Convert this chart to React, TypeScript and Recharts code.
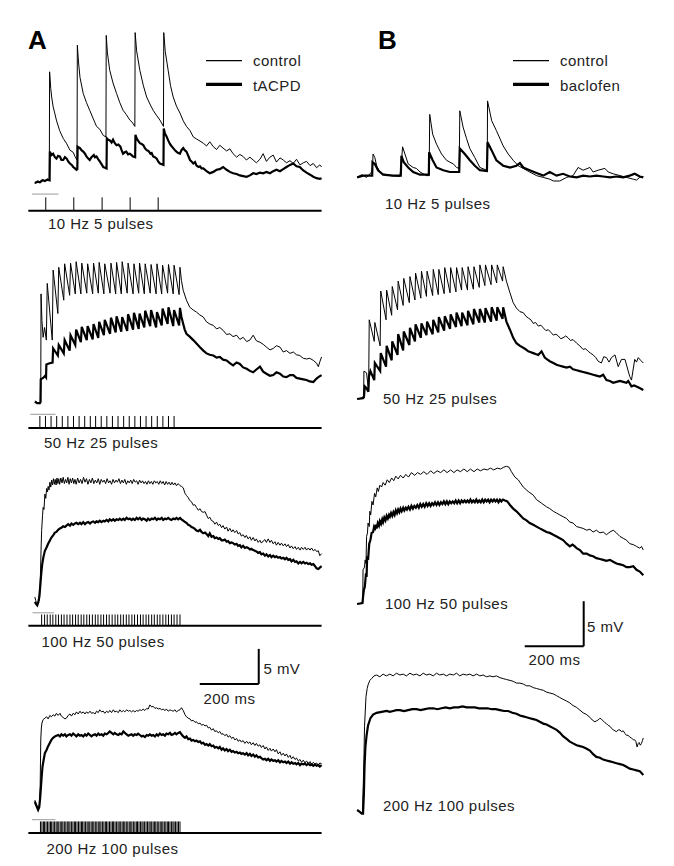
import { Line, LineChart, ReferenceLine, XAxis, YAxis } from "recharts";

type Pt = [number, number];

// [time in ms from trace start, mV above resting baseline]

// A, 10 Hz 5 pulses
const a10Control: Pt[] = [
  [0, -0.2], [9, 0.2], [17, 0.1], [26, 0.4], [34, 0.2], [42, 0.5], [49, 0.3], [50, 15.8], [54, 13.4], [57, 12.2],
  [62, 10.8], [68, 9.8], [73, 8.9], [84, 7.4], [96, 6.3], [107, 5.6], [119, 4.6], [130, 4.3], [136, 3.7], [143, 3.2],
  [144, 19.6], [148, 17.2], [153, 15], [164, 12.7], [175, 11.4], [186, 10.3], [198, 9.1], [209, 8], [220, 7.6], [232, 6.7],
  [241, 6.5], [242, 21], [246, 18.5], [254, 16], [265, 14.2], [277, 12.7], [288, 11.4], [299, 10.3], [310, 9.7], [322, 8.9],
  [330, 8.6], [339, 8], [340, 21.4], [345, 18.8], [356, 16], [368, 13.8], [379, 12.2], [390, 11.2], [401, 10.3], [412, 9.6],
  [424, 8.9], [436, 8], [437, 21.4], [442, 18.7], [452, 16], [460, 13.8], [469, 12.2], [480, 10.9], [492, 9.9], [503, 8.8],
  [514, 8], [526, 7.4], [537, 6.5], [548, 6.2], [560, 5.9], [571, 5.6], [582, 5.2], [593, 5.8], [605, 5.1], [616, 4.7],
  [627, 5.3], [638, 4.9], [650, 4.5], [661, 4.8], [672, 4.1], [684, 3.6], [695, 4], [706, 3.7], [717, 3.2], [729, 3.6],
  [740, 3.2], [751, 2.8], [763, 3.3], [774, 4.1], [785, 3], [797, 3.6], [808, 3.9], [819, 2.9], [831, 3.5], [842, 3.2],
  [853, 2.8], [865, 3.1], [876, 2.7], [887, 3.3], [899, 2.5], [910, 2.8], [921, 3], [933, 2.4], [944, 2.7], [955, 2.1],
  [966, 2.5], [972, 2.2],
];
const a10Drug: Pt[] = [
  [0, -0.1], [9, 0.1], [17, 0], [26, 0.3], [34, 0.2], [42, 0.4], [50, 0.3], [51, 4.4], [54, 4.1], [57, 3.9],
  [62, 4.1], [68, 3.6], [73, 3.4], [79, 3.8], [85, 3.7], [90, 3.2], [96, 3.2], [102, 3.6], [108, 3.4], [113, 3],
  [119, 2.7], [125, 2.5], [130, 2.2], [136, 2], [141, 1.8], [144, 1.9], [145, 5.1], [149, 5], [153, 4.9], [158, 4.6],
  [164, 4.4], [170, 4.1], [175, 3.7], [181, 3.4], [186, 3.2], [192, 3.6], [200, 3.9], [204, 3.6], [209, 3.7], [215, 3.3],
  [220, 3], [226, 2.6], [232, 2.2], [238, 2.1], [243, 2], [244, 6.3], [249, 6.1], [254, 6], [260, 5.7], [265, 6.1],
  [271, 5.6], [277, 5.3], [283, 5.4], [290, 5.1], [294, 4.6], [299, 4.1], [305, 4.3], [310, 4.4], [316, 4], [322, 4.1],
  [328, 3.9], [333, 3.7], [340, 3.6], [341, 6.8], [346, 6.2], [351, 5.9], [356, 5.6], [362, 5.5], [368, 5.3], [373, 4.9],
  [379, 4.6], [385, 4.5], [392, 4.1], [396, 4.2], [401, 3.7], [407, 3.6], [413, 3.4], [418, 3], [424, 2.7], [430, 2.6],
  [436, 2.5], [437, 7.7], [441, 7], [446, 6.6], [452, 6], [458, 5.5], [463, 5.2], [469, 4.9], [475, 4.6], [480, 4.4],
  [486, 4.2], [492, 4.1], [497, 4.6], [503, 4.9], [508, 4.6], [514, 4.4], [520, 3.8], [526, 3.2], [531, 3], [537, 2.7],
  [543, 2.9], [548, 2.4], [555, 2.2], [560, 2.3], [565, 2], [571, 2], [577, 1.8], [582, 1.6], [593, 1.3], [605, 1.5],
  [616, 1.8], [627, 1.9], [638, 2.2], [650, 1.8], [661, 1.5], [672, 1.3], [684, 1.2], [695, 1], [706, 0.9], [718, 0.8],
  [729, 1], [740, 1.3], [751, 1.2], [763, 1.4], [774, 1.3], [785, 1.5], [797, 1.3], [808, 1.6], [819, 1.8], [831, 1.6],
  [842, 1.9], [853, 2.2], [865, 2.5], [876, 2.7], [887, 2.3], [898, 2.2], [910, 1.7], [921, 1.4], [933, 1.1], [944, 0.8],
  [955, 0.6], [966, 0.5], [972, 0.6],
];
const stimA10 = [37, 132, 228, 323, 418];

// A, 50 Hz 25 pulses
const a50Control: Pt[] = [
  [0, 0], [8, -0.2], [17, -0.4], [20, -0.1], [21, 15.3], [24, 11.5], [28, 9.1], [33, 10.5], [39, 8.7], [42, 16.8],
  [59, 8.7], [62, 18.7], [78, 12.5], [81, 19.1], [98, 14.4], [101, 19.6], [118, 15.1], [121, 19.7], [137, 15.3], [140, 19.9],
  [156, 15.3], [159, 19.7], [176, 15.4], [179, 19.6], [196, 15.3], [199, 19.7], [215, 15.4], [218, 19.8], [234, 15.3], [237, 19.6],
  [255, 15.4], [258, 19.7], [274, 15.3], [277, 19.8], [293, 15.3], [296, 19.9], [313, 15.4], [316, 19.7], [333, 15.3], [336, 19.6],
  [352, 15.4], [355, 19.7], [371, 15.3], [374, 19.6], [391, 15.4], [394, 19.5], [411, 15.3], [414, 19.6], [430, 15.3], [433, 19.4],
  [450, 15.4], [453, 19.5], [469, 15.3], [472, 19.4], [489, 15.2], [492, 19.1], [497, 17.2], [503, 15.8], [514, 14.4], [525, 13.4],
  [537, 13], [548, 12.7], [559, 12.3], [571, 12], [582, 11.3], [593, 11], [605, 10.8], [616, 10.3], [627, 10.5], [638, 10.1],
  [650, 9.5], [661, 9.6], [672, 9.2], [684, 9.4], [695, 8.8], [706, 9.1], [718, 8.5], [729, 8.7], [740, 9.4], [751, 8.6],
  [763, 8.4], [774, 8.1], [785, 7.7], [797, 7.3], [808, 7.5], [819, 7.9], [831, 7.7], [842, 7], [853, 7.2], [865, 6.8],
  [876, 7], [887, 6.6], [898, 6.5], [910, 6.1], [921, 6], [932, 6.1], [944, 5.8], [955, 5.4], [961, 4.9], [966, 5.6],
  [972, 6.3],
];
const a50Drug: Pt[] = [
  [0, -0.1], [8, -0.3], [17, -0.3], [19, -0.2], [20, 3.1], [28, 3.3], [35, 3.6], [38, 3.4], [39, 5.2], [50, 5.4],
  [60, 5.5], [62, 7.5], [78, 6.5], [81, 8], [98, 6.8], [101, 8.7], [118, 7.2], [121, 9.4], [137, 8], [140, 10.2],
  [156, 8.4], [159, 10.6], [176, 8.7], [179, 10.7], [196, 8.8], [199, 11], [215, 9], [218, 11.3], [234, 9.4], [237, 11.6],
  [255, 9.6], [258, 11.9], [274, 9.8], [277, 12.1], [293, 9.9], [296, 12], [313, 10], [316, 12.4], [333, 10.2], [336, 12.6],
  [352, 10.3], [355, 12.5], [371, 10.5], [374, 12.9], [391, 10.7], [394, 13], [411, 10.5], [414, 12.7], [430, 10.8], [433, 13.2],
  [450, 11], [453, 13.4], [469, 10.7], [472, 13], [489, 10.8], [492, 13.3], [497, 12], [503, 11], [508, 10.2], [514, 9.6],
  [525, 9.2], [537, 8.7], [548, 8.2], [559, 7.7], [571, 7.2], [582, 6.8], [593, 6.6], [605, 6.5], [616, 6.2], [627, 6.3],
  [638, 5.9], [650, 5.8], [661, 5.4], [672, 5.1], [684, 5.5], [695, 5.3], [706, 4.8], [718, 4.6], [729, 4.3], [740, 4.1],
  [751, 4.5], [763, 4.9], [774, 4.2], [785, 3.9], [797, 3.6], [808, 3.7], [819, 4.1], [831, 3.9], [842, 3.5], [853, 3.4],
  [865, 3.7], [876, 3.7], [887, 3.3], [898, 3.2], [910, 3.1], [921, 3], [932, 2.8], [944, 2.7], [955, 3.2], [961, 3.4],
  [972, 3.7],
];
const stimA50 = [17, 36, 55, 74, 93, 112, 131, 150, 169, 188, 206, 225, 244, 263, 282, 301, 320, 339, 358, 377, 396, 415, 434, 453, 472];

// A, 100 Hz 50 pulses
const a100Control: Pt[] = [
  [0, 0.5], [3, 0], [6, -0.5], [10, -0.2], [15, 0], [17, 1.2], [19, 3.8], [21, 7.2], [23, 10], [26, 12.1],
  [28, 13.3], [31, 13], [34, 15.2], [37, 14.6], [40, 16], [43, 15.5], [45, 16.3], [48, 15.8], [51, 16.9], [54, 16.2],
  [57, 17.2], [60, 16.5], [63, 17.4], [66, 16.6], [69, 17.3], [72, 16.5], [75, 17.5], [78, 16.7], [81, 17.4], [84, 16.6],
  [88, 17.5], [92, 16.8], [96, 17.6], [100, 16.7], [104, 17.3], [108, 16.8], [112, 17.6], [116, 16.6], [120, 17.4], [124, 16.8],
  [128, 17.5], [132, 16.7], [136, 17.3], [140, 16.6], [145, 17.5], [150, 16.8], [155, 17.3], [160, 16.7], [165, 17.6], [170, 16.9],
  [175, 17.4], [180, 16.6], [185, 17.3], [190, 16.8], [195, 17.5], [200, 16.7], [205, 17.2], [210, 16.8], [215, 17.4], [220, 16.6],
  [225, 17.3], [230, 16.9], [235, 17.2], [240, 16.7], [245, 17.4], [250, 16.8], [255, 17.1], [260, 16.6], [265, 17.3], [270, 16.8],
  [275, 17.2], [280, 16.9], [285, 17.4], [290, 16.7], [295, 17.2], [300, 16.8], [305, 17.3], [310, 16.6], [315, 17.1], [320, 16.8],
  [325, 17.2], [330, 16.7], [335, 17.3], [340, 16.9], [345, 17.1], [350, 16.6], [355, 17.2], [360, 16.8], [365, 17.1], [370, 16.7],
  [375, 17], [380, 16.6], [385, 17.1], [390, 16.7], [395, 17], [400, 16.6], [405, 17.1], [410, 16.8], [415, 17], [420, 16.6],
  [425, 17.1], [430, 16.7], [435, 17], [440, 16.5], [445, 17], [450, 16.6], [455, 16.9], [460, 16.5], [465, 16.9], [470, 16.5],
  [475, 16.8], [480, 16.4], [486, 16.7], [492, 16.4], [497, 16.3], [503, 16.1], [509, 15.3], [514, 15], [520, 14.7], [525, 14.3],
  [531, 14.1], [537, 13.6], [542, 13.7], [548, 13.3], [554, 12.9], [560, 13.1], [565, 12.7], [571, 12.6], [577, 12.7], [582, 12.2],
  [588, 11.7], [593, 11.9], [599, 11.4], [605, 11.3], [610, 10.9], [616, 11.2], [622, 10.7], [627, 10.9], [633, 10.4], [638, 10.7],
  [644, 10.2], [650, 10.5], [655, 9.9], [661, 10.3], [667, 9.8], [672, 10.1], [678, 9.7], [684, 10], [689, 9.5], [695, 9.7],
  [700, 9.2], [706, 9.4], [712, 9], [717, 9.3], [723, 8.8], [729, 9.1], [734, 8.6], [740, 9], [746, 8.5], [751, 8.8],
  [757, 8.3], [763, 8.6], [768, 8.2], [774, 8.5], [780, 8.7], [785, 8.3], [791, 8.8], [797, 8.3], [802, 8.6], [808, 8.1],
  [814, 8.4], [819, 7.9], [825, 8.3], [831, 7.9], [836, 8.2], [842, 7.8], [848, 8.1], [853, 7.7], [859, 8], [865, 7.5],
  [870, 7.8], [876, 7.4], [882, 7.7], [887, 7.3], [893, 7.6], [899, 7.2], [904, 7.6], [910, 7.3], [916, 7.6], [921, 7.2],
  [927, 7.5], [933, 7.2], [938, 7.5], [944, 7.1], [950, 7.3], [955, 7], [961, 7.1], [966, 6.4], [972, 6.7],
];
const a100Drug: Pt[] = [
  [0, -0.2], [4, -0.5], [8, -0.7], [12, -0.2], [15, 0.5], [19, 2.4], [22, 4], [25, 5.2], [29, 6.2], [34, 7.1],
  [40, 7.6], [45, 8.1], [50, 8.5], [56, 9], [62, 9.3], [68, 9.7], [73, 9.8], [79, 10.1], [85, 10.3], [90, 10.4],
  [96, 10.6], [102, 10.5], [107, 10.7], [113, 10.9], [119, 10.7], [124, 11], [130, 10.8], [136, 11], [141, 11.1], [147, 10.9],
  [153, 11.1], [158, 10.9], [164, 11.2], [170, 10.9], [175, 11.1], [181, 11.2], [187, 11], [192, 11.2], [198, 11.3], [204, 11.1],
  [209, 11.3], [215, 11.2], [220, 11.4], [226, 11.2], [232, 11.4], [237, 11.3], [243, 11.5], [249, 11.3], [254, 11.6], [260, 11.4],
  [266, 11.6], [271, 11.4], [277, 11.6], [283, 11.5], [288, 11.7], [294, 11.5], [300, 11.7], [305, 11.5], [311, 11.8], [317, 11.6],
  [322, 11.7], [328, 11.5], [333, 11.7], [339, 11.5], [345, 11.8], [350, 11.6], [356, 11.8], [362, 11.5], [367, 11.7], [373, 11.6],
  [379, 11.4], [384, 11.7], [390, 11.5], [396, 11.7], [401, 11.6], [407, 11.8], [413, 11.5], [418, 11.7], [424, 11.6], [430, 11.8],
  [435, 11.5], [441, 11.7], [446, 11.6], [452, 11.8], [458, 11.6], [463, 11.5], [469, 11.7], [475, 11.6], [480, 11.8], [486, 11.6],
  [492, 11.8], [497, 11.6], [503, 11.4], [509, 11.2], [514, 11.1], [520, 10.8], [526, 10.7], [531, 10.5], [537, 10.4], [543, 10.2],
  [548, 10], [554, 9.9], [560, 10.1], [565, 9.8], [571, 9.6], [577, 9.7], [582, 9.5], [588, 9.2], [593, 9.6], [599, 9.1],
  [605, 9.2], [610, 8.9], [616, 9], [622, 8.8], [627, 8.9], [633, 8.6], [638, 8.6], [644, 8.7], [650, 8.4], [655, 8.5],
  [661, 8.2], [667, 8.3], [672, 8.2], [678, 8], [684, 8.1], [689, 7.8], [695, 7.9], [700, 7.6], [706, 7.8], [712, 7.5],
  [718, 7.6], [723, 7.5], [729, 7.3], [734, 7.4], [740, 7.2], [746, 7.1], [751, 7], [757, 6.8], [763, 6.9], [768, 6.6],
  [774, 6.7], [780, 6.4], [785, 6.6], [791, 6.3], [797, 6.5], [802, 6.2], [808, 6.4], [814, 6.2], [819, 6.3], [825, 6.1],
  [831, 6.2], [836, 6], [842, 6.1], [848, 5.9], [853, 6.1], [859, 5.8], [865, 5.9], [870, 5.6], [876, 5.8], [882, 5.5],
  [887, 5.6], [893, 5.3], [899, 5.5], [904, 5.3], [910, 5.5], [916, 5.3], [921, 5.4], [927, 5.2], [933, 5.3], [938, 5.1],
  [944, 5.2], [950, 4.9], [955, 4.6], [961, 4.5], [966, 4.7], [972, 4.9],
];
const stimA100 = [
  23, 33, 42, 52, 61, 71, 80, 90, 99, 109, 119, 128, 138, 147, 157, 166, 176, 185, 195, 205,
  214, 224, 233, 243, 252, 262, 272, 281, 291, 300, 310, 319, 329, 338, 348, 358, 367, 377, 386, 396,
  405, 415, 424, 434, 444, 453, 463, 472, 482, 492,
];

// A, 200 Hz 100 pulses
const a200Control: Pt[] = [
  [0, 0.2], [3, -0.2], [6, -0.5], [11, -1], [15, -0.5], [18, 2], [20, 8.8], [22, 10.5], [24, 11.2], [28, 11.7],
  [34, 11.9], [40, 12.1], [45, 11.8], [51, 12.3], [56, 12.1], [62, 12.4], [68, 12.2], [73, 12.6], [79, 12.3], [85, 12.6],
  [90, 12.2], [96, 12], [102, 11.8], [107, 11.9], [113, 12.3], [119, 12.5], [124, 12.2], [130, 12.6], [136, 12.4], [141, 12.8],
  [147, 12.5], [153, 12.9], [158, 12.6], [164, 12.8], [170, 12.5], [175, 12.8], [181, 12.6], [187, 12.9], [192, 12.6], [198, 12.7],
  [204, 12.5], [209, 12.9], [215, 12.7], [220, 13.1], [226, 12.8], [232, 12.9], [237, 12.6], [243, 12.9], [249, 12.7], [254, 13],
  [260, 12.7], [266, 13.1], [271, 12.8], [277, 12.9], [283, 12.7], [288, 13.1], [294, 12.8], [300, 13], [305, 12.8], [311, 13.1],
  [317, 12.9], [322, 13], [328, 12.8], [333, 13], [339, 12.8], [345, 13], [350, 12.9], [356, 13.1], [362, 13], [367, 13.2],
  [373, 13], [379, 13.3], [384, 13.2], [390, 13.8], [396, 13.5], [401, 13.6], [407, 13.3], [413, 13.4], [418, 13.2], [424, 13.3],
  [430, 13.1], [435, 13.2], [441, 13], [446, 13.2], [452, 12.9], [458, 13.1], [463, 13], [469, 12.9], [475, 13.1], [480, 12.8],
  [486, 13], [492, 13.1], [497, 13.4], [503, 13], [509, 12.4], [514, 12.1], [520, 11.9], [526, 11.8], [531, 11.5], [537, 11.6],
  [543, 11.3], [548, 11.4], [554, 11.1], [560, 11.2], [565, 10.9], [571, 11], [577, 10.8], [582, 10.9], [588, 10.5], [593, 10.6],
  [599, 10.2], [605, 10.4], [610, 10], [616, 10.1], [622, 9.8], [627, 10], [633, 9.6], [638, 9.7], [644, 9.4], [650, 9.6],
  [655, 9.2], [661, 9.4], [667, 9], [672, 9.2], [678, 8.8], [684, 9], [689, 8.6], [695, 8.8], [700, 8.5], [706, 8.7],
  [712, 8.3], [718, 8.6], [723, 8.3], [729, 8.5], [734, 8.1], [740, 8.4], [746, 8], [751, 8.3], [757, 7.9], [763, 8.1],
  [768, 7.7], [774, 8], [780, 7.5], [785, 7.8], [791, 7.3], [797, 7.6], [802, 7.2], [808, 7.5], [814, 7.1], [819, 7.4],
  [825, 6.8], [831, 7.1], [836, 6.6], [842, 6.9], [848, 6.5], [853, 6.8], [859, 6.3], [865, 6.6], [870, 6.1], [876, 6.4],
  [882, 6], [887, 6.2], [893, 5.8], [899, 6], [904, 5.6], [910, 5.9], [916, 5.5], [921, 5.8], [927, 5.4], [933, 5.7],
  [938, 5.3], [944, 5.6], [950, 5.3], [955, 5.5], [961, 5.2], [966, 5.5], [972, 5.4],
];
const a200Drug: Pt[] = [
  [0, 0], [3, -0.4], [6, -0.7], [11, -1.2], [15, -0.8], [18, 0.5], [20, 1.7], [23, 3.5], [26, 5], [30, 6],
  [34, 6.9], [40, 7.4], [45, 7.9], [51, 8.4], [56, 8.8], [62, 9.1], [68, 9.3], [73, 9.4], [79, 9.5], [85, 9.3],
  [90, 9.6], [96, 9.4], [102, 9.6], [107, 9.3], [113, 9.5], [119, 9.6], [124, 9.4], [130, 9.7], [136, 9.5], [141, 9.3],
  [147, 9.6], [153, 9.4], [158, 9.5], [164, 9.3], [170, 9.6], [175, 9.4], [181, 9.7], [187, 9.5], [192, 9.3], [198, 9.5],
  [204, 9.6], [209, 9.4], [215, 9.7], [220, 9.5], [226, 9.6], [232, 9.4], [237, 9.7], [243, 9.6], [249, 9.8], [254, 10],
  [260, 9.8], [266, 9.6], [271, 9.8], [277, 9.6], [283, 9.5], [288, 9.7], [294, 9.6], [300, 10], [305, 9.8], [311, 9.6],
  [317, 9.4], [322, 9.5], [328, 9.6], [333, 9.4], [339, 9.6], [345, 9.5], [350, 9.7], [356, 9.5], [362, 9.3], [367, 9.4],
  [373, 9.2], [379, 9.5], [384, 9.4], [390, 9.6], [396, 9.4], [401, 9.5], [407, 9.3], [413, 9.6], [418, 9.4], [424, 9.7],
  [430, 9.5], [435, 9.6], [441, 9.4], [446, 9.7], [452, 9.6], [458, 9.8], [463, 9.5], [469, 9.6], [475, 9.8], [480, 9.6],
  [486, 9.8], [492, 9.9], [497, 9.6], [503, 9.3], [509, 9.1], [514, 9.3], [520, 8.9], [526, 9], [531, 8.7], [537, 8.8],
  [543, 8.6], [548, 8.7], [554, 8.5], [560, 8.6], [565, 8.3], [571, 8.4], [577, 8.1], [582, 8.2], [588, 8], [593, 8.2],
  [599, 7.9], [605, 8], [610, 7.7], [616, 7.8], [622, 7.6], [627, 7.8], [633, 7.4], [638, 7.6], [644, 7.3], [650, 7.5],
  [655, 7.2], [661, 7.4], [667, 7.1], [672, 7.2], [678, 7], [684, 7.1], [689, 6.9], [695, 7], [700, 6.8], [706, 6.9],
  [712, 6.7], [718, 6.9], [723, 6.6], [729, 6.8], [734, 6.5], [740, 6.7], [746, 6.4], [751, 6.6], [757, 6.3], [763, 6.4],
  [768, 6.2], [774, 6], [780, 6.1], [785, 5.9], [791, 6.1], [797, 5.8], [802, 6], [808, 5.8], [814, 5.9], [819, 5.7],
  [825, 5.9], [831, 5.6], [836, 5.8], [842, 5.6], [848, 5.7], [853, 5.5], [859, 5.7], [865, 5.4], [870, 5.6], [876, 5.4],
  [882, 5.5], [887, 5.3], [893, 5.5], [899, 5.2], [904, 5.4], [910, 5.3], [916, 5.4], [921, 5.2], [927, 5.4], [933, 5.2],
  [938, 5.3], [944, 5.1], [950, 5.3], [955, 5.1], [961, 5.2], [966, 5], [972, 5.2],
];
const stimA200 = [
  19, 24, 29, 33, 38, 43, 48, 53, 57, 62, 67, 72, 76, 81, 86, 91, 95, 100, 105, 110,
  115, 119, 124, 129, 134, 138, 143, 148, 153, 158, 162, 167, 172, 177, 181, 186, 191, 196, 200, 205,
  210, 215, 220, 224, 229, 234, 239, 243, 248, 253, 258, 263, 267, 272, 277, 282, 286, 291, 296, 301,
  305, 310, 315, 320, 325, 329, 334, 339, 344, 348, 353, 358, 363, 367, 372, 377, 382, 387, 391, 396,
  401, 406, 410, 415, 420, 425, 430, 434, 439, 444, 449, 453, 458, 463, 468, 472, 477, 482, 487, 492,
];

// B, 10 Hz 5 pulses
const b10Control: Pt[] = [
  [1, -0.1], [16, 0.2], [33, -0.1], [50, 0.5], [53, 1], [55, 2.5], [61, 2.1], [67, 1.2], [78, 0.5], [89, 0.3],
  [112, 0.1], [146, 0], [151, 1.4], [155, 3.3], [163, 2.5], [174, 1.4], [191, 1], [202, 0.9], [214, 0.5], [236, 0.1],
  [245, 0.1], [247, 6.9], [257, 4.7], [270, 3.6], [287, 2.5], [304, 1.8], [315, 1.6], [327, 1.4], [338, 1], [347, 0.9],
  [349, 7.3], [360, 5.5], [372, 4.2], [383, 3.1], [400, 2.1], [417, 1], [440, 0.7], [442, 0.7], [443, 8.4], [457, 6.2],
  [473, 5.1], [496, 3.4], [513, 2.5], [530, 1.8], [547, 1.2], [564, 0.9], [586, 0.5], [609, 0.1], [632, -0.1], [654, -0.3],
  [666, -0.5], [688, -0.5], [711, -0.1], [733, 0.1], [750, 1], [767, 0.7], [790, 1], [801, 0.5], [818, 0.7], [841, 0.9],
  [852, 0.5], [869, 0.3], [892, 0.1], [914, -0.1], [937, -0.3], [948, -0.4], [959, -0.1], [971, 0],
];
const b10Drug: Pt[] = [
  [1, -0.1], [21, 0.1], [44, 0.1], [52, 0.1], [53, 1.6], [61, 1.4], [72, 0.7], [89, 0.2], [123, 0.1], [149, 0.1],
  [151, 2.3], [159, 1.6], [174, 1], [191, 0.5], [214, 0.2], [244, 0.2], [245, 2.7], [257, 1.8], [270, 1], [293, 0.7],
  [315, 0.5], [347, 0.5], [349, 3.1], [366, 2.5], [383, 1.8], [400, 1.2], [417, 0.7], [441, 0.6], [443, 3.8], [457, 2.9],
  [473, 1.8], [496, 1.2], [519, 1], [541, 1.2], [553, 1.5], [564, 1], [586, 0.7], [609, 0.4], [632, 0.1], [654, 0.5],
  [677, 0.1], [699, 0.3], [722, 0], [745, -0.1], [767, 0.1], [790, 0], [812, 0.1], [835, 0], [858, -0.1], [880, 0],
  [903, -0.1], [925, 0.1], [942, 0.3], [959, 0], [971, -0.1],
];

// B, 50 Hz 25 pulses
const b50Control: Pt[] = [
  [1, 0], [16, 0.1], [21, 0.3], [23, 0.3], [24, 3.1], [33, 2.9], [38, 1.4], [40, 1.4], [42, 8.8], [59, 6.4],
  [61, 8.5], [79, 5.9], [81, 12], [99, 8.8], [101, 12.1], [118, 9.3], [120, 12.5], [138, 9.9], [140, 13.1], [157, 10.4],
  [159, 13.4], [178, 10.7], [180, 13.6], [197, 11], [199, 14], [217, 11.2], [219, 14.2], [236, 11.4], [238, 14.2], [257, 11.5],
  [259, 14.4], [276, 11.6], [278, 14.4], [296, 11.7], [298, 14.6], [316, 11.8], [318, 14.6], [336, 11.9], [338, 14.6], [355, 12.1],
  [357, 14.6], [375, 12.1], [377, 14.7], [395, 12.2], [397, 14.7], [415, 12.4], [417, 14.9], [434, 12.6], [436, 14.9], [455, 12.7],
  [457, 14.9], [474, 12.9], [476, 14.9], [494, 13.1], [496, 14.7], [507, 13.1], [519, 11.8], [530, 10.7], [541, 10.1], [553, 9.7],
  [564, 9.6], [573, 9.2], [581, 9], [590, 8.8], [598, 8.4], [606, 8.5], [615, 8.1], [624, 8.2], [632, 7.9], [641, 7.6],
  [649, 7.7], [658, 7.4], [666, 7.1], [675, 7.2], [683, 7], [691, 6.7], [699, 6.8], [708, 7], [716, 6.8], [724, 6.5],
  [733, 6.6], [745, 6.2], [756, 5.9], [767, 5.5], [775, 5.6], [784, 5.3], [792, 5.1], [801, 4.9], [810, 4.6], [818, 4.2],
  [829, 4], [837, 4.7], [846, 4.6], [855, 4.1], [863, 4.6], [875, 4.9], [886, 3.6], [897, 4.4], [909, 4.4], [925, 2.5],
  [931, 2.1], [942, 4.4], [948, 4.1], [954, 4.6], [962, 4.3], [971, 4],
];
const b50Drug: Pt[] = [
  [1, 0], [21, 0.1], [24, 0.2], [27, 1.4], [33, 1.2], [39, 0.8], [41, 2.5], [46, 3.1], [59, 2.1], [61, 4],
  [79, 3.1], [81, 5.1], [99, 3.6], [101, 5.9], [118, 4.3], [120, 6.4], [138, 4.9], [140, 7.2], [157, 5.4], [159, 7.5],
  [178, 6], [180, 7.9], [197, 6.4], [199, 8.3], [217, 6.8], [219, 8.4], [236, 7.1], [238, 8.6], [257, 7.2], [259, 8.8],
  [276, 7.4], [278, 9.1], [296, 7.6], [298, 9.2], [316, 7.8], [318, 9.4], [336, 8], [338, 9.6], [355, 8.1], [357, 9.6],
  [375, 8.2], [377, 9.8], [395, 8.3], [397, 10], [415, 8.5], [417, 10], [434, 8.5], [436, 10.1], [455, 8.6], [457, 10.2],
  [474, 8.7], [476, 10.2], [494, 8.9], [496, 10.2], [507, 8.6], [519, 7.7], [530, 6.8], [541, 6.2], [553, 5.9], [564, 5.7],
  [573, 5.5], [581, 5.3], [590, 5.2], [598, 5.1], [606, 5], [615, 4.9], [626, 5.3], [637, 4.6], [645, 4.4], [654, 4.2],
  [666, 4], [677, 3.8], [688, 3.7], [699, 3.6], [711, 3.5], [722, 3.6], [733, 3.3], [745, 3.2], [756, 3.1], [767, 3],
  [779, 2.9], [790, 2.8], [801, 2.7], [812, 2.6], [824, 2.5], [835, 2.7], [846, 2.1], [858, 2], [869, 1.8], [880, 1.9],
  [892, 2], [903, 1.9], [914, 1.8], [920, 2], [931, 1.4], [940, 1.5], [948, 1.4], [960, 1.2], [971, 1],
];

// B, 100 Hz 50 pulses
const b100Control: Pt[] = [
  [1, 0], [16, 0.1], [20, 0.1], [21, 3.8], [26, 4.1], [28, 4.9], [31, 4.5], [33, 7.5], [36, 7.9], [38, 9],
  [42, 8.6], [44, 10.3], [47, 9.9], [51, 11.4], [55, 11], [60, 12.3], [64, 11.9], [69, 12.9], [73, 12.5], [78, 13.2],
  [84, 13], [89, 13.5], [96, 13.2], [103, 13.8], [110, 13.5], [118, 14], [125, 13.7], [132, 14.2], [140, 13.9], [148, 14.3],
  [157, 14], [166, 14.4], [175, 14.1], [185, 14.6], [196, 14.3], [206, 14.6], [216, 14.4], [227, 14.7], [238, 14.4], [250, 14.8],
  [261, 14.5], [272, 14.8], [284, 14.6], [295, 14.9], [306, 14.6], [318, 14.9], [329, 14.6], [340, 14.9], [351, 14.7], [363, 15],
  [374, 14.7], [385, 15], [397, 14.7], [408, 15], [419, 14.8], [431, 15], [442, 14.9], [453, 15.1], [464, 14.9], [476, 15.1],
  [487, 15], [498, 15.2], [507, 15.3], [516, 15.2], [524, 14.7], [536, 14.1], [547, 13.8], [564, 13], [581, 12.5], [598, 12.1],
  [609, 11.6], [626, 11.2], [643, 10.8], [654, 10.6], [666, 10.3], [677, 10.1], [688, 9.9], [699, 9.7], [711, 9.5], [722, 9.1],
  [733, 9], [745, 8.6], [756, 8.5], [767, 8.4], [779, 8.2], [790, 8.3], [801, 8], [812, 8.2], [824, 7.9], [835, 8],
  [846, 7.7], [858, 8], [869, 8.2], [880, 7.9], [892, 7.5], [903, 7.3], [914, 7.1], [925, 6.7], [937, 6.6], [948, 6.4],
  [959, 6.2], [965, 6.4], [971, 6],
];
const b100Drug: Pt[] = [
  [1, 0], [19, 0.1], [21, 0.8], [24, 1.6], [27, 1.9], [31, 3.4], [33, 3], [35, 5.3], [38, 4.9], [42, 6.7],
  [46, 7.1], [50, 7.9], [55, 8], [58, 8.5], [61, 8.2], [64, 8.8], [67, 8.4], [71, 9], [75, 8.7], [78, 9.2],
  [82, 8.9], [86, 9.4], [89, 9.1], [93, 9.6], [97, 9.3], [101, 9.8], [105, 9.5], [109, 9.9], [112, 9.7], [116, 10.1],
  [120, 9.8], [124, 10.2], [128, 9.9], [132, 10.4], [136, 10.1], [140, 10.5], [144, 10.2], [148, 10.6], [152, 10.3], [157, 10.7],
  [161, 10.4], [166, 10.7], [170, 10.5], [175, 10.8], [180, 10.5], [185, 10.9], [190, 10.6], [195, 10.9], [200, 10.7], [205, 11],
  [210, 10.7], [215, 11.1], [220, 10.8], [225, 11.1], [230, 10.8], [235, 11.2], [240, 10.9], [245, 11.2], [250, 10.9], [255, 11.2],
  [260, 11], [265, 11.3], [270, 11], [275, 11.3], [280, 11], [285, 11.3], [290, 11.1], [295, 11.4], [300, 11.1], [305, 11.4],
  [310, 11.1], [315, 11.4], [320, 11.2], [325, 11.4], [330, 11.2], [335, 11.5], [340, 11.2], [345, 11.5], [350, 11.2], [355, 11.5],
  [360, 11.3], [365, 11.5], [370, 11.3], [375, 11.5], [380, 11.3], [385, 11.6], [390, 11.3], [395, 11.5], [400, 11.3], [405, 11.6],
  [410, 11.3], [415, 11.5], [420, 11.3], [425, 11.6], [430, 11.3], [435, 11.6], [440, 11.4], [445, 11.6], [450, 11.3], [455, 11.6],
  [460, 11.4], [465, 11.6], [470, 11.4], [475, 11.6], [480, 11.3], [485, 11.6], [490, 11.4], [495, 11.6], [502, 11.5], [510, 11.4],
  [519, 11], [530, 10.6], [541, 10.3], [553, 9.9], [564, 9.5], [575, 9.3], [586, 9], [598, 8.8], [609, 8.6], [620, 8.4],
  [632, 8.2], [643, 8], [654, 7.9], [666, 7.7], [677, 7.5], [688, 7.3], [699, 7.1], [711, 6.7], [722, 6.4], [731, 6.6],
  [739, 6.4], [745, 6.2], [756, 6], [767, 5.6], [779, 5.6], [790, 5.4], [801, 5.3], [812, 5.1], [824, 5], [835, 4.9],
  [846, 4.8], [858, 4.9], [869, 4.7], [880, 4.5], [892, 4.4], [903, 4.3], [914, 4.1], [925, 4.1], [937, 4.2], [948, 3.8],
  [959, 3.6], [971, 3.2],
];

// B, 200 Hz 100 pulses
const b200Control: Pt[] = [
  [1, 0], [10, -0.2], [16, -0.4], [19, -0.4], [21, 1.9], [24, 5.6], [26, 9.3], [31, 12.6], [35, 13.5], [38, 13.9],
  [44, 14.4], [50, 14.6], [58, 14.9], [67, 15], [78, 14.8], [89, 15.1], [100, 14.9], [112, 15.1], [123, 14.9], [134, 15.2],
  [146, 15], [157, 15.1], [168, 14.9], [180, 15.2], [191, 15], [202, 15.1], [214, 14.9], [225, 15.2], [236, 15], [247, 15.1],
  [259, 14.9], [270, 15.2], [281, 15], [293, 15.1], [304, 14.9], [315, 15.1], [327, 15], [338, 15.2], [349, 14.9], [360, 15.1],
  [372, 15], [383, 15.1], [394, 14.9], [406, 15.1], [417, 14.9], [428, 15], [440, 14.8], [451, 14.9], [462, 14.8], [473, 14.9],
  [485, 14.7], [496, 14.6], [507, 14.5], [519, 14.4], [530, 14.3], [541, 14.1], [553, 14.1], [564, 14], [575, 13.8], [586, 13.8],
  [598, 13.6], [609, 13.5], [620, 13.4], [632, 13.3], [643, 13.1], [654, 13], [666, 12.9], [677, 12.7], [688, 12.5], [699, 12.3],
  [711, 12.1], [722, 11.9], [733, 11.6], [745, 11.4], [756, 11.1], [767, 10.8], [779, 10.6], [790, 10.3], [798, 10], [807, 9.8],
  [812, 9.9], [818, 10], [824, 10.2], [829, 10.1], [835, 9.9], [841, 9.7], [846, 9.6], [852, 9.4], [858, 9.3], [863, 9.1],
  [869, 8.9], [875, 8.8], [880, 8.7], [886, 8.9], [892, 8.9], [897, 8.7], [903, 8.8], [909, 8.5], [914, 8.3], [920, 8.3],
  [925, 8.1], [931, 8], [937, 7.8], [942, 7.8], [946, 7.6], [950, 7], [954, 7.4], [957, 7.5], [961, 7.2], [965, 7.4],
  [968, 7.7], [971, 8],
];
const b200Drug: Pt[] = [
  [1, 0], [10, -0.2], [17, -0.4], [21, -0.4], [24, 1.9], [26, 4.8], [29, 7], [33, 8.3], [38, 9.4], [46, 10.2],
  [55, 10.6], [67, 10.8], [84, 10.9], [101, 11], [112, 10.9], [123, 11], [134, 11.1], [146, 11.1], [160, 11], [174, 11.1],
  [188, 11.2], [202, 11.2], [216, 11.1], [231, 11.2], [245, 11.3], [259, 11.3], [273, 11.2], [287, 11.3], [301, 11.4], [315, 11.3],
  [329, 11.4], [344, 11.4], [358, 11.5], [372, 11.4], [386, 11.4], [400, 11.4], [414, 11.3], [428, 11.3], [443, 11.3], [457, 11.2],
  [471, 11.2], [485, 11.1], [499, 11], [513, 11], [527, 10.8], [541, 10.7], [553, 10.5], [564, 10.4], [575, 10.3], [586, 10.2],
  [598, 10.1], [609, 10], [620, 9.8], [632, 9.6], [643, 9.5], [654, 9.3], [666, 9.1], [677, 8.9], [688, 8.6], [699, 8.2],
  [711, 7.9], [722, 7.6], [733, 7.4], [745, 7.2], [756, 7.1], [767, 7], [779, 6.8], [790, 6.6], [801, 6.2], [812, 5.9],
  [824, 5.8], [835, 5.6], [846, 5.5], [858, 5.4], [869, 5.3], [880, 5.2], [892, 5.1], [903, 5], [914, 4.8], [925, 4.6],
  [937, 4.5], [948, 4.4], [959, 4.3], [965, 4.1], [971, 3.9],
];

const MS_PX = 0.295;
const X_MIN = -30;
const X_MAX = 1000;
const FONT = '"Liberation Sans", Arial, Helvetica, sans-serif';

const rows = (pts: Pt[]) => pts.map(([t, v]) => ({ t, v }));

type PanelProps = {
  x0: number;
  y0: number;
  mvPx: number;
  vMin: number;
  vMax: number;
  control: Pt[];
  drug: Pt[];
  stim?: number[];
  stimLine?: number;
  stimTop?: number;
  marker?: [number, number, number];
  scale?: { t: number; v: number };
};

function Panel({ x0, y0, mvPx, vMin, vMax, control, drug, stim, stimLine, stimTop, marker, scale }: PanelProps) {
  const width = (X_MAX - X_MIN) * MS_PX;
  const height = (vMax - vMin) * mvPx;
  return (
    <div style={{ position: "absolute", left: x0 + X_MIN * MS_PX, top: y0 - vMax * mvPx }}>
      <LineChart width={width} height={height} margin={{ top: 0, right: 0, bottom: 0, left: 0 }}>
        <XAxis type="number" dataKey="t" domain={[X_MIN, X_MAX]} hide allowDataOverflow />
        <YAxis type="number" domain={[vMin, vMax]} hide allowDataOverflow />
        {marker && (
          <ReferenceLine
            segment={[{ x: marker[0], y: marker[2] }, { x: marker[1], y: marker[2] }]}
            stroke="#9a9a9a"
            strokeWidth={1}
          />
        )}
        {stim &&
          stim.map((t) => (
            <ReferenceLine
              key={t}
              segment={[{ x: t, y: stimLine }, { x: t, y: stimTop }]}
              stroke="#000"
              strokeWidth={1}
            />
          ))}
        {stim && (
          <ReferenceLine
            segment={[{ x: -22, y: stimLine }, { x: 972, y: stimLine }]}
            stroke="#000"
            strokeWidth={2}
          />
        )}
        {scale && (
          <ReferenceLine
            segment={[{ x: scale.t - 200, y: scale.v }, { x: scale.t, y: scale.v }]}
            stroke="#000"
            strokeWidth={2}
          />
        )}
        {scale && (
          <ReferenceLine
            segment={[{ x: scale.t, y: scale.v }, { x: scale.t, y: scale.v + 5 }]}
            stroke="#000"
            strokeWidth={2}
          />
        )}
        <Line
          data={rows(drug)}
          dataKey="v"
          type="linear"
          stroke="#000"
          strokeWidth={2.2}
          dot={false}
          isAnimationActive={false}
        />
        <Line
          data={rows(control)}
          dataKey="v"
          type="linear"
          stroke="#000"
          strokeWidth={1}
          dot={false}
          isAnimationActive={false}
        />
      </LineChart>
    </div>
  );
}

function Txt({ x, cy, size = 15, bold = false, children }: { x: number; cy: number; size?: number; bold?: boolean; children: string }) {
  return (
    <div
      style={{
        position: "absolute",
        left: x,
        top: cy - size * 0.49,
        fontFamily: FONT,
        fontSize: size,
        lineHeight: `${size}px`,
        fontWeight: bold ? 700 : 400,
        letterSpacing: bold ? 0 : 0.45,
        color: bold ? "#000" : "#222",
        whiteSpace: "nowrap",
      }}
    >
      {children}
    </div>
  );
}

function Key({ x, drugName }: { x: number; drugName: string }) {
  return (
    <>
      <svg style={{ position: "absolute", left: x, top: 50 }} width={40} height={45}>
        <line x1={0} y1={10.7} x2={36} y2={10.7} stroke="#000" strokeWidth={1.2} />
        <line x1={0} y1={34.3} x2={36} y2={34.3} stroke="#000" strokeWidth={3.2} />
      </svg>
      <Txt x={x + 47} cy={60}>control</Txt>
      <Txt x={x + 47} cy={85.5}>{drugName}</Txt>
    </>
  );
}

export default function App() {
  return (
    <div style={{ position: "absolute", left: 0, top: 0, width: 674, height: 866, background: "#fff", overflow: "hidden" }}>
      <Txt x={28} cy={39.5} size={26} bold>A</Txt>
      <Txt x={378} cy={39.5} size={26} bold>B</Txt>
      <Key x={206} drugName="tACPD" />
      <Key x={513} drugName="baclofen" />

      <Panel x0={35} y0={182.3} mvPx={7} vMin={-4.6} vMax={22.2} control={a10Control} drug={a10Drug}
        stim={stimA10} stimLine={-4.06} stimTop={-2.14} marker={[-10, 80, -1.67]} />
      <Panel x0={35} y0={400.7} mvPx={7} vMin={-4.5} vMax={21} control={a50Control} drug={a50Drug}
        stim={stimA50} stimLine={-3.86} stimTop={-2.14} marker={[-15, 70, -1.9]} />
      <Panel x0={35} y0={600} mvPx={7} vMin={-4.2} vMax={18.5} control={a100Control} drug={a100Drug}
        stim={stimA100} stimLine={-3.62} stimTop={-2} marker={[-8, 65, -1.76]} />
      <Panel x0={35} y0={801.7} mvPx={7} vMin={-5.1} vMax={22.5} control={a200Control} drug={a200Drug}
        stim={stimA200} stimLine={-4.51} stimTop={-2.85} marker={[-10, 70, -2.6]} scale={{ t: 759, v: 16.8 }} />

      <Panel x0={357} y0={176} mvPx={9} vMin={-1} vMax={9.5} control={b10Control} drug={b10Drug} />
      <Panel x0={357} y0={399} mvPx={9} vMin={-1} vMax={16} control={b50Control} drug={b50Drug} />
      <Panel x0={357} y0={604} mvPx={9} vMin={-1} vMax={16} control={b100Control} drug={b100Drug} />
      <Panel x0={357} y0={810} mvPx={9} vMin={-1} vMax={24} control={b200Control} drug={b200Drug}
        scale={{ t: 769, v: 18.2 }} />

      <Txt x={48} cy={223.7}>10 Hz 5 pulses</Txt>
      <Txt x={44} cy={442}>50 Hz 25 pulses</Txt>
      <Txt x={41.5} cy={641}>100 Hz 50 pulses</Txt>
      <Txt x={46.5} cy={848.5}>200 Hz 100 pulses</Txt>
      <Txt x={385} cy={203}>10 Hz 5 pulses</Txt>
      <Txt x={383} cy={398.5}>50 Hz 25 pulses</Txt>
      <Txt x={385} cy={603}>100 Hz 50 pulses</Txt>
      <Txt x={383} cy={805}>200 Hz 100 pulses</Txt>

      <Txt x={263.5} cy={668.5}>5 mV</Txt>
      <Txt x={203.5} cy={698}>200 ms</Txt>
      <Txt x={587} cy={626.5}>5 mV</Txt>
      <Txt x={528.5} cy={659}>200 ms</Txt>
    </div>
  );
}
